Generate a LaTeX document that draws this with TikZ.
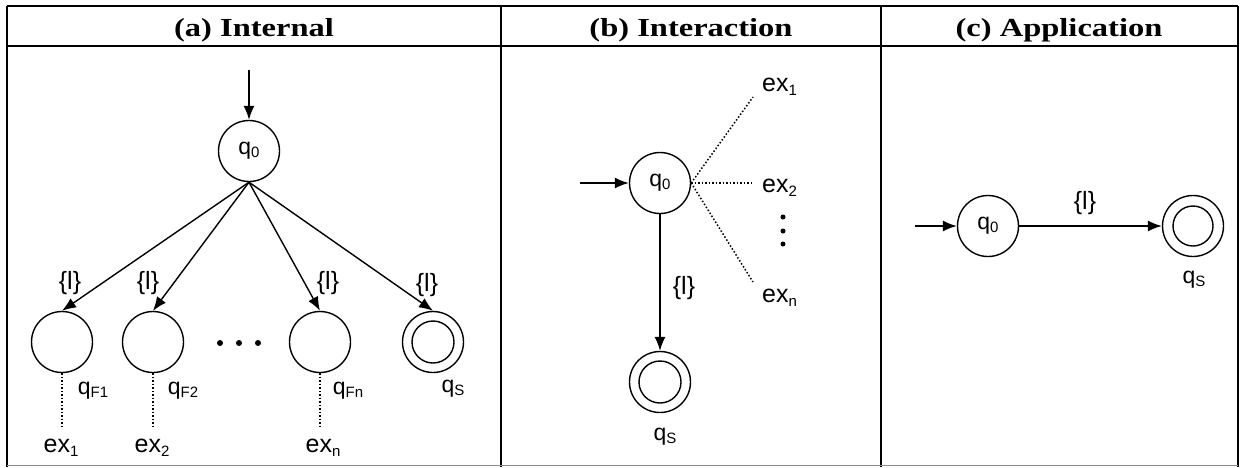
\documentclass[tikz,border=0pt]{standalone}
\usepackage{fontspec}
\setmainfont{Liberation Sans}
\newfontfamily\hdrfont{Liberation Serif}
\usetikzlibrary{arrows.meta}
\newcommand\lowsub[1]{\raisebox{-3pt}{\fontsize{15}{15}\selectfont #1}}
\newcommand\exsub[1]{\raisebox{-4pt}{\fontsize{15}{15}\selectfont #1}}
\begin{document}
\begin{tikzpicture}[x=1pt,y=-1pt,
  st/.style={circle, draw, line width=1.4pt, minimum size=61pt, inner sep=0pt, font=\fontsize{23}{23}\selectfont},
  lbl/.style={inner sep=0pt, font=\fontsize{25}{25}\selectfont},
  ql/.style={inner sep=0pt, font=\fontsize{23}{23}\selectfont},
  exl/.style={inner sep=0pt, font=\fontsize{25}{25}\selectfont},
  hdr/.style={inner sep=0pt, anchor=base, font=\hdrfont\bfseries\fontsize{26}{26}\selectfont},
  arr/.style={-{Latex[length=14pt,width=11pt]}, line width=1.4pt},
  dotl/.style={line width=1.5pt, dash pattern=on 1.5pt off 2pt},
  frame/.style={line width=2pt},
  inner/.style={line width=1.4pt}
]
\useasboundingbox (0,0) rectangle (1245,467);
% frame
\draw[frame] (7,6) -- (1238,6);
\draw[frame] (7,46) -- (1238,46);
\draw[frame] (7,6) -- (7,467);
\draw[frame] (501,6) -- (501,467);
\draw[frame] (881,6) -- (881,467);
\draw[frame] (1238,6) -- (1238,467);
\draw[line width=1pt, black!45] (7,465) -- (1238,465);
% headers
\node[hdr] (ha) at (254,36) {\scalebox{1.25}[1]{(a) Internal}};
\node[hdr] (hb) at (691,36) {\scalebox{1.25}[1]{(b) Interaction}};
\node[hdr] (hc) at (1059,36) {\scalebox{1.25}[1]{(c) Application}};

% ---------- panel a
\coordinate (a0in) at (249,70);
\node[st] (a0) at (249,151) {q\lowsub{0}};
\node[st] (aF1) at (62,342) {};
\node[st] (aF2) at (153,342) {};
\node[st] (aFn) at (320,342) {};
\node[st] (aS) at (433,342) {};
\draw[inner] (aS.center) circle (21);
\draw[arr] (a0in) -- (a0);
\draw[arr] (a0.south) -- (aF1.north);
\draw[arr] (a0.south) -- (aF2.north);
\draw[arr] (a0.south) -- (aFn.north);
\draw[arr] (a0.south) -- (aS.north);
\node[lbl] (la1) at (70,283) {\{l\}};
\node[lbl] (la2) at (148,283) {\{l\}};
\node[lbl] (lan) at (328,283) {\{l\}};
\node[lbl] (las) at (427,285) {\{l\}};
\fill (220,343) circle (3);
\fill (239,343) circle (3);
\fill (258,343) circle (3);
\node[ql] (qF1) at (93,391) {q\lowsub{F1}};
\node[ql] (qF2) at (183,391) {q\lowsub{F2}};
\node[ql] (qFn) at (348,391) {q\lowsub{Fn}};
\node[ql] (qSa) at (453,389) {q\lowsub{S}};
\node[exl] (ex1a) at (61,448) {ex\exsub{1}};
\node[exl] (ex2a) at (152,448) {ex\exsub{2}};
\node[exl] (exna) at (323,448) {ex\exsub{n}};
\draw[dotl] (aF1.south) -- ++(0,54);
\draw[dotl] (aF2.south) -- ++(0,54);
\draw[dotl] (aFn.south) -- ++(0,54);

% ---------- panel b
\coordinate (b0in) at (580,183);
\node[st] (b0) at (660,183) {q\lowsub{0}};
\node[st] (bS) at (660,382) {};
\draw[inner] (bS.center) circle (21);
\draw[arr] (b0in) -- (b0);
\draw[arr] (b0) -- (bS);
\node[lbl] (lb) at (684,288) {\{l\}};
\node[ql] (qSb) at (665,437) {q\lowsub{S}};
\coordinate (bx1) at (753,97);
\coordinate (bx2) at (753,183);
\coordinate (bxn) at (753,282);
\draw[dotl] (b0.east) -- (bx1);
\draw[dotl] (b0.east) -- (bx2);
\draw[dotl] (b0.east) -- (bxn);
\node[exl, anchor=west] (ex1b) at (762,87) {ex\exsub{1}};
\node[exl, anchor=west] (ex2b) at (762,188) {ex\exsub{2}};
\node[exl, anchor=west] (exnb) at (762,298) {ex\exsub{n}};
\fill (783,217) circle (2.5);
\fill (783,231) circle (2.5);
\fill (783,244) circle (2.5);

% ---------- panel c
\coordinate (c0in) at (915,226);
\node[st] (c0) at (988,226) {q\lowsub{0}};
\node[st] (cS) at (1193,226) {};
\draw[inner] (cS.center) circle (20);
\draw[arr] (c0in) -- (c0);
\draw[arr] (c0) -- (cS);
\node[lbl] (lc) at (1085,203) {\{l\}};
\node[ql] (qSc) at (1194,280) {q\lowsub{S}};
\end{tikzpicture}
\end{document}
